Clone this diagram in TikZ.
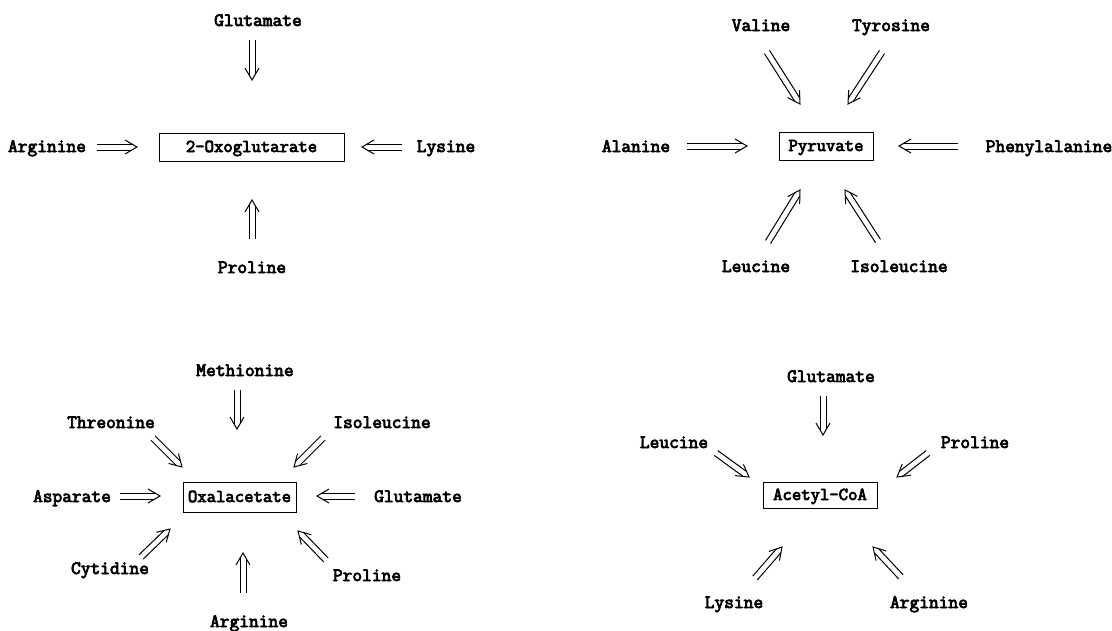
\documentclass[tikz,border=0pt]{standalone}
\usepackage{fontspec}
\newfontfamily\labfont{Latin Modern Mono}[FakeBold=4]
\usetikzlibrary{calc}
% double-shafted open arrow from #1 to #2
\newcommand\dblarr[2]{%
  \draw[arrline] ($(#1)!3pt!90:(#2)$) -- ($($(#2)!5pt!(#1)$)!3pt!-90:(#1)$);
  \draw[arrline] ($(#1)!3pt!-90:(#2)$) -- ($($(#2)!5pt!(#1)$)!3pt!90:(#1)$);
  \draw[arrline, line join=miter] ($($(#2)!12pt!(#1)$)!7pt!90:(#1)$) -- (#2) -- ($($(#2)!12pt!(#1)$)!7pt!-90:(#1)$);
}
\begin{document}
\begin{tikzpicture}[x=1pt,y=-1pt,
  lbl/.style={font=\labfont\fontsize{18.9}{21}\selectfont, inner sep=0pt, text height=12pt, text depth=2pt},
  box/.style={lbl, font=\labfont\fontsize{18.2}{21}\selectfont, draw, line width=1pt, minimum height=28pt},
  arrline/.style={line width=1pt, line cap=butt}]
\useasboundingbox (0,0) rectangle (1112,630);

% ---------- top left: 2-Oxoglutarate ----------
\node[box, minimum width=185pt] (oxo) at (251.5,147) {2-Oxoglutarate};
\node[lbl] (tlglu) at (258,21) {Glutamate};
\node[lbl] (tlarg) at (47,147) {Arginine};
\node[lbl] (tllys) at (446,147) {Lysine};
\node[lbl] (tlpro) at (252,268) {Proline};
\coordinate (a1s) at (252,40);  \coordinate (a1e) at (252,80);
\coordinate (a2s) at (97,147);  \coordinate (a2e) at (137,147);
\coordinate (a3s) at (402,147); \coordinate (a3e) at (362,147);
\coordinate (a4s) at (252,239); \coordinate (a4e) at (252,200);
\dblarr{a1s}{a1e}
\dblarr{a2s}{a2e}
\dblarr{a3s}{a3e}
\dblarr{a4s}{a4e}

% ---------- top right: Pyruvate ----------
\node[box, minimum width=94pt] (pyr) at (826,146) {Pyruvate};
\node[lbl] (trval) at (761,26) {Valine};
\node[lbl] (trtyr) at (891,26) {Tyrosine};
\node[lbl] (trala) at (636,147) {Alanine};
\node[lbl] (trphe) at (1049,147) {Phenylalanine};
\node[lbl] (trleu) at (756,267) {Leucine};
\node[lbl] (trile) at (899,267) {Isoleucine};
\coordinate (b1s) at (767,52);  \coordinate (b1e) at (800,104);
\coordinate (b2s) at (882,52);  \coordinate (b2e) at (848,104);
\coordinate (b3s) at (687,146); \coordinate (b3e) at (747,146);
\coordinate (b4s) at (958,146); \coordinate (b4e) at (899,146);
\coordinate (b5s) at (768,242); \coordinate (b5e) at (800,190);
\coordinate (b6s) at (878,241); \coordinate (b6e) at (845,190);
\dblarr{b1s}{b1e}
\dblarr{b2s}{b2e}
\dblarr{b3s}{b3e}
\dblarr{b4s}{b4e}
\dblarr{b5s}{b5e}
\dblarr{b6s}{b6e}

% ---------- bottom left: Oxalacetate ----------
\node[box, minimum width=113pt, minimum height=30pt] (oaa) at (239.5,497) {Oxalacetate};
\node[lbl] (blmet) at (245,371) {Methionine};
\node[lbl] (blthr) at (111,423) {Threonine};
\node[lbl] (blile) at (382,423) {Isoleucine};
\node[lbl] (blasp) at (72,497) {Asparate};
\node[lbl] (blglu) at (418,497) {Glutamate};
\node[lbl] (blcyt) at (110,569) {Cytidine};
\node[lbl] (blpro) at (367,576) {Proline};
\node[lbl] (blarg) at (249,622) {Arginine};
\coordinate (c1s) at (237,390); \coordinate (c1e) at (237,429);
\coordinate (c2s) at (153,438); \coordinate (c2e) at (182,467);
\coordinate (c3s) at (323,438); \coordinate (c3e) at (294,467);
\coordinate (c4s) at (120,496); \coordinate (c4e) at (160,496);
\coordinate (c5s) at (355,496); \coordinate (c5e) at (317,496);
\coordinate (c6s) at (141,557); \coordinate (c6e) at (170,529);
\coordinate (c7s) at (243,593); \coordinate (c7e) at (243,553);
\coordinate (c8s) at (326,560); \coordinate (c8e) at (298,531);
\dblarr{c1s}{c1e}
\dblarr{c2s}{c2e}
\dblarr{c3s}{c3e}
\dblarr{c4s}{c4e}
\dblarr{c5s}{c5e}
\dblarr{c6s}{c6e}
\dblarr{c7s}{c7e}
\dblarr{c8s}{c8e}

% ---------- bottom right: Acetyl-CoA ----------
\node[box, minimum width=114pt, minimum height=26pt] (acoa) at (820,495) {Acetyl-CoA};
\node[lbl] (brglu) at (831,377) {Glutamate};
\node[lbl] (brleu) at (674,443) {Leucine};
\node[lbl] (brpro) at (975,443) {Proline};
\node[lbl] (brlys) at (734,603) {Lysine};
\node[lbl] (brarg) at (929,603) {Arginine};
\coordinate (d1s) at (823,396); \coordinate (d1e) at (823,435);
\coordinate (d2s) at (716,453); \coordinate (d2e) at (749,477);
\coordinate (d3s) at (928,453); \coordinate (d3e) at (897,477);
\coordinate (d4s) at (755,578); \coordinate (d4e) at (782,547);
\coordinate (d5s) at (901,577); \coordinate (d5e) at (873,547);
\dblarr{d1s}{d1e}
\dblarr{d2s}{d2e}
\dblarr{d3s}{d3e}
\dblarr{d4s}{d4e}
\dblarr{d5s}{d5e}
\end{tikzpicture}
\end{document}
